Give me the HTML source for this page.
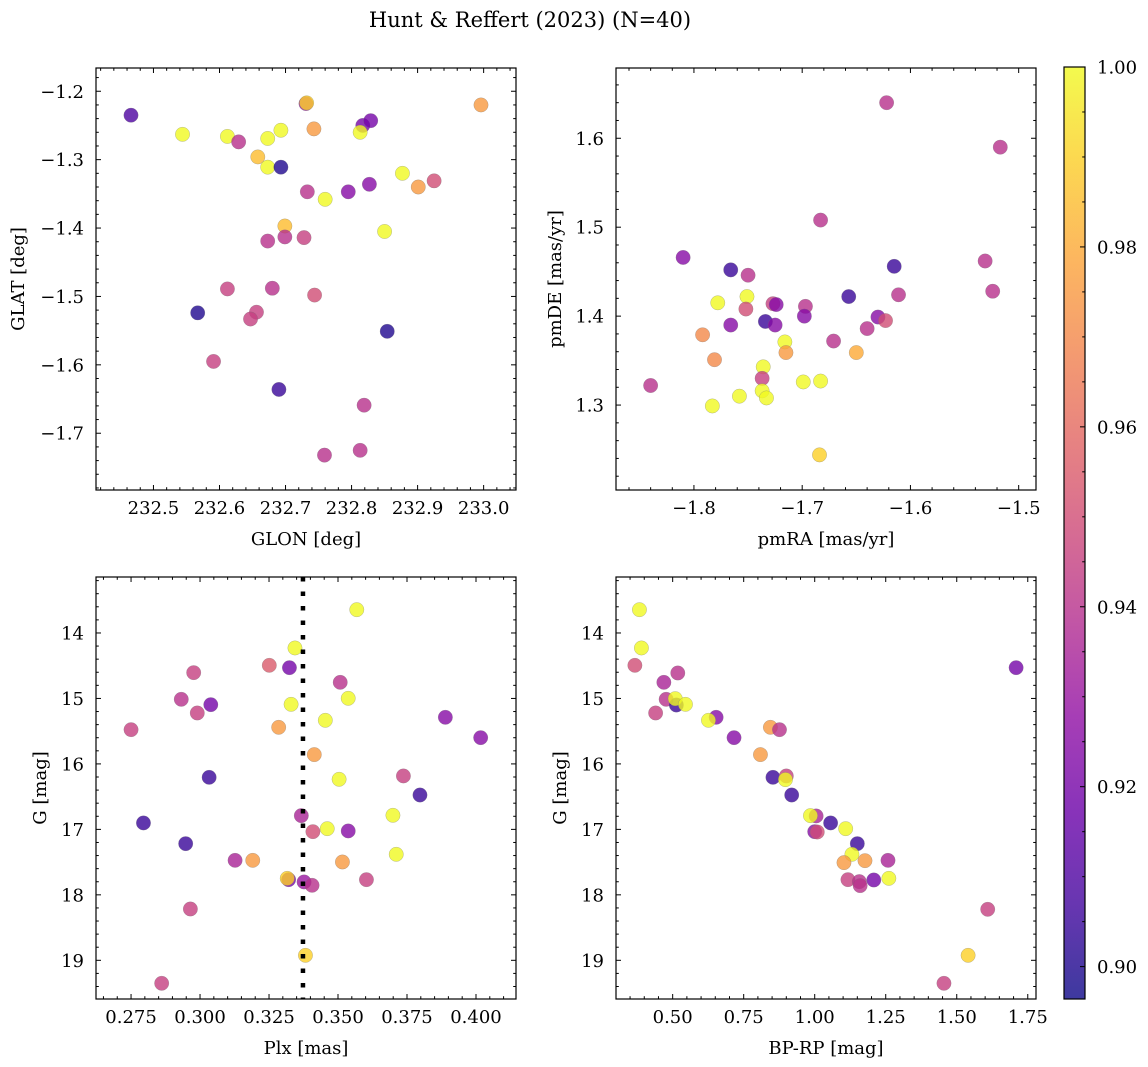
<!DOCTYPE html>
<html><head><meta charset="utf-8">
<style>
html,body{margin:0;padding:0;background:#fff;}
svg{display:block;font-family:"DejaVu Serif","Liberation Serif",serif;}
</style></head>
<body>
<svg id="fig" width="1148" height="1067" viewBox="0 0 1148 1067" xmlns="http://www.w3.org/2000/svg">
<text x="530" y="27" font-size="21" text-anchor="middle">Hunt &amp; Reffert (2023) (N=40)</text>
</svg>
<script>
// ---- Panel 1 data: GLON vs GLAT ----
const p1GLON=[232.466,232.544,232.612,232.629,232.673,232.693,232.658,232.673,232.693,232.731,232.732,232.743,232.817,232.829,232.813,232.733,232.760,232.795,232.827,232.877,232.901,232.925,232.996,232.699,232.673,232.699,232.728,232.850,232.612,232.680,232.744,232.567,232.656,232.647,232.591,232.854,232.690,232.819,232.813,232.759];
const p1GLAT=[-1.235,-1.263,-1.266,-1.274,-1.269,-1.257,-1.296,-1.311,-1.311,-1.218,-1.217,-1.255,-1.250,-1.243,-1.260,-1.347,-1.358,-1.347,-1.336,-1.320,-1.340,-1.331,-1.220,-1.397,-1.419,-1.413,-1.414,-1.405,-1.489,-1.488,-1.498,-1.524,-1.523,-1.533,-1.595,-1.551,-1.636,-1.659,-1.725,-1.732];
const p1Prob=[0.91,1.0,1.0,0.94,1.0,1.0,0.985,1.0,0.90,0.93,0.99,0.975,0.92,0.92,1.0,0.94,1.0,0.925,0.925,1.0,0.975,0.95,0.975,0.985,0.94,0.94,0.945,1.0,0.945,0.94,0.95,0.90,0.945,0.945,0.945,0.90,0.905,0.94,0.94,0.94];
// ---- Panel 2 data: pmRA vs pmDE ----
const p2PMRA=[-1.622,-1.517,-1.683,-1.810,-1.766,-1.750,-1.615,-1.531,-1.524,-1.611,-1.657,-1.778,-1.751,-1.752,-1.727,-1.724,-1.697,-1.698,-1.734,-1.725,-1.766,-1.630,-1.623,-1.640,-1.671,-1.792,-1.716,-1.715,-1.650,-1.781,-1.736,-1.737,-1.737,-1.733,-1.758,-1.783,-1.699,-1.683,-1.840,-1.684];
const p2PMDE=[1.640,1.590,1.508,1.466,1.452,1.446,1.456,1.462,1.428,1.424,1.422,1.415,1.422,1.408,1.414,1.413,1.411,1.400,1.394,1.390,1.390,1.399,1.395,1.386,1.372,1.379,1.371,1.359,1.359,1.351,1.343,1.330,1.316,1.308,1.310,1.299,1.326,1.327,1.322,1.244];
const p2Prob=[0.94,0.94,0.94,0.925,0.905,0.94,0.905,0.94,0.94,0.94,0.905,1.0,1.0,0.95,0.945,0.925,0.94,0.925,0.905,0.925,0.925,0.925,0.95,0.94,0.94,0.97,1.0,0.975,0.98,0.97,1.0,0.945,1.0,1.0,1.0,1.0,1.0,1.0,0.94,0.99];
// ---- Panel 3 data: Plx vs G ----
const p3Plx=[0.3568,0.3344,0.3251,0.3324,0.2977,0.3508,0.2932,0.3039,0.3330,0.3537,0.2990,0.3454,0.3285,0.3889,0.2750,0.4017,0.3414,0.3033,0.3504,0.3737,0.3797,0.3367,0.3699,0.2795,0.3461,0.3409,0.3537,0.2948,0.3711,0.3127,0.3191,0.3516,0.3603,0.3321,0.3316,0.3377,0.3406,0.2965,0.3382,0.2861];
const p3G=[13.644,14.229,14.494,14.530,14.606,14.754,15.013,15.095,15.090,14.998,15.222,15.334,15.441,15.288,15.477,15.599,15.858,16.205,16.235,16.184,16.475,16.790,16.785,16.902,16.989,17.035,17.024,17.218,17.381,17.473,17.473,17.498,17.768,17.768,17.748,17.803,17.854,18.216,18.924,19.351];
const p3Prob=[1.0,1.0,0.955,0.92,0.945,0.94,0.94,0.92,1.0,1.0,0.945,1.0,0.975,0.925,0.945,0.925,0.975,0.905,1.0,0.945,0.905,0.935,1.0,0.905,1.0,0.95,0.925,0.905,1.0,0.935,0.975,0.975,0.945,0.92,0.99,0.93,0.94,0.945,0.99,0.945];
const p3LinePlx=0.3373;
// ---- Panel 4 data: BP-RP vs G ----
const p4BPRP=[0.383,0.390,0.367,1.709,0.469,0.518,0.477,0.513,0.509,0.545,0.440,0.653,0.626,0.844,0.876,0.716,0.809,0.853,0.900,0.897,0.919,1.005,0.985,1.056,1.109,1.000,1.009,1.150,1.131,1.258,1.177,1.103,1.117,1.157,1.160,1.208,1.261,1.609,1.540,1.455];
const p4G=[13.644,14.229,14.494,14.530,14.754,14.611,15.013,15.100,15.003,15.090,15.222,15.288,15.334,15.441,15.477,15.599,15.858,16.205,16.184,16.240,16.475,16.795,16.790,16.902,16.989,17.035,17.040,17.218,17.381,17.473,17.478,17.508,17.768,17.798,17.859,17.773,17.748,18.221,18.924,19.351];
const p4Prob=[1.0,1.0,0.95,0.92,0.935,0.94,0.94,0.905,1.0,1.0,0.945,0.925,1.0,0.975,0.94,0.925,0.975,0.905,0.945,1.0,0.905,0.935,1.0,0.905,1.0,0.925,0.95,0.905,1.0,0.935,0.975,0.975,0.945,0.94,0.94,0.92,1.0,0.945,0.99,0.945];
// ---- tick labels ----
const p1XTicks=[232.5,232.6,232.7,232.8,232.9,233.0];
const p1YTicks=[-1.2,-1.3,-1.4,-1.5,-1.6,-1.7];
const p2XTicks=[-1.8,-1.7,-1.6,-1.5];
const p2YTicks=[1.3,1.4,1.5,1.6];
const p3XTicks=[0.275,0.300,0.325,0.350,0.375,0.400];
const p3YTicks=[14,15,16,17,18,19];
const p4XTicks=[0.50,0.75,1.00,1.25,1.50,1.75];
const p4YTicks=[14,15,16,17,18,19];
const cbTicks=[0.90,0.92,0.94,0.96,0.98,1.00];
const VMIN=0.8964, VMAX=1.0;

const NS="http://www.w3.org/2000/svg";
const svg=document.getElementById('fig');
const FS=18;
function mk(tag,attrs,parent){const e=document.createElementNS(NS,tag);for(const k in attrs)e.setAttribute(k,attrs[k]);(parent||svg).appendChild(e);return e;}
const PL=[[0,[13,8,135]],[0.1,[65,4,157]],[0.2,[106,0,168]],[0.3,[143,13,164]],[0.4,[177,42,144]],[0.5,[204,71,120]],[0.6,[225,100,98]],[0.7,[242,132,75]],[0.8,[252,166,54]],[0.9,[252,206,37]],[1.0,[240,249,33]]];
function plasma(t){t=Math.max(0,Math.min(1,t));for(let i=1;i<PL.length;i++){if(t<=PL[i][0]){const a=PL[i-1],b=PL[i],f=(t-a[0])/(b[0]-a[0]);const c=a[1].map((v,j)=>Math.round(v+(b[1][j]-v)*f));return `rgb(${c[0]},${c[1]},${c[2]})`;}}return 'rgb(240,249,33)';}
function fmt(v,d){return (v<0?'\u2212':'')+Math.abs(v).toFixed(d);}

function panel(c){
  const g=mk('g',{});
  
  
  const sx=v=>c.x0+(v-c.xmin)/(c.xmax-c.xmin)*c.w;
  const sy=v=>c.y0+(v-c.ytop)/(c.ybot-c.ytop)*c.h;
  const pts=mk('g',{},g);
  
  
  for(let i=0;i<c.xs.length;i++){
    const p=mk('circle',{cx:sx(c.xs[i]),cy:sy(c.ys[i]),r:7.2,fill:plasma((c.pr[i]-VMIN)/(VMAX-VMIN)),'fill-opacity':0.8,stroke:'#777','stroke-opacity':0.5,'stroke-width':0.5},pts);
    
    
  }
  if(c.vline!==undefined){
    const l=mk('line',{x1:sx(c.vline),x2:sx(c.vline),y1:c.y0,y2:c.y0+c.h,stroke:'#000','stroke-width':4.5,'stroke-dasharray':'4.5 10'},g);
    
    
  }
  const fr=mk('rect',{x:c.x0,y:c.y0,width:c.w,height:c.h,fill:'none',stroke:'#000','stroke-width':1.2},g);
  
  
  const tk=mk('g',{stroke:'#000','stroke-width':1},g);
  const xlo=Math.min(c.xmin,c.xmax),xhi=Math.max(c.xmin,c.xmax);
  for(let k=Math.ceil(xlo/c.xminor-1e-9);k*c.xminor<=xhi+1e-9;k++){
    const v=k*c.xminor,X=sx(v);
    const major=c.xt.some(t=>Math.abs(t-v)<c.xminor/10);
    const L=major?5:2.8;
    mk('line',{x1:X,x2:X,y1:c.y0+c.h,y2:c.y0+c.h-L},tk);
    mk('line',{x1:X,x2:X,y1:c.y0,y2:c.y0+L},tk);
  }
  const ylo=Math.min(c.ytop,c.ybot),yhi=Math.max(c.ytop,c.ybot);
  for(let k=Math.ceil(ylo/c.yminor-1e-9);k*c.yminor<=yhi+1e-9;k++){
    const v=k*c.yminor,Y=sy(v);
    const major=c.yt.some(t=>Math.abs(t-v)<c.yminor/10);
    const L=major?5:2.8;
    mk('line',{x1:c.x0,x2:c.x0+L,y1:Y,y2:Y},tk);
    mk('line',{x1:c.x0+c.w,x2:c.x0+c.w-L,y1:Y,y2:Y},tk);
  }
  for(const t of c.xt){
    const e=mk('text',{x:sx(t),y:c.y0+c.h+24,'font-size':FS,'text-anchor':'middle'},g);
    e.textContent=fmt(t,c.xd);
    
    
  }
  for(const t of c.yt){
    const e=mk('text',{x:c.x0-12,y:sy(t)+6.5,'font-size':FS,'text-anchor':'end'},g);
    e.textContent=fmt(t,c.yd);
    
    
  }
  const xl=mk('text',{x:c.x0+c.w/2,y:c.y0+c.h+55,'font-size':FS,'text-anchor':'middle'},g);
  xl.textContent=c.xlabel;
  
  
  const yl=mk('text',{x:0,y:0,'font-size':FS,'text-anchor':'middle',transform:`translate(${c.ylx},${c.y0+c.h/2}) rotate(-90)`},g);
  yl.textContent=c.ylabel;
  
  
}

panel({name:'glon-glat-panel',x0:96,y0:68,w:420,h:422,xmin:232.413,xmax:233.049,ytop:-1.166,ybot:-1.783,xs:p1GLON,ys:p1GLAT,pr:p1Prob,xt:p1XTicks,yt:p1YTicks,xminor:0.02,yminor:0.02,xd:1,yd:1,xlabel:'GLON [deg]',ylabel:'GLAT [deg]',ylx:24});
panel({name:'proper-motion-panel',x0:616,y0:68,w:420,h:422,xmin:-1.872,xmax:-1.484,ytop:1.679,ybot:1.2045,xs:p2PMRA,ys:p2PMDE,pr:p2Prob,xt:p2XTicks,yt:p2YTicks,xminor:0.02,yminor:0.02,xd:1,yd:1,xlabel:'pmRA [mas/yr]',ylabel:'pmDE [mas/yr]',ylx:561});
panel({name:'parallax-panel',x0:96,y0:577,w:420,h:422,xmin:0.2623,xmax:0.4145,ytop:13.145,ybot:19.591,xs:p3Plx,ys:p3G,pr:p3Prob,xt:p3XTicks,yt:p3YTicks,xminor:0.005,yminor:0.2,xd:3,yd:0,xlabel:'Plx [mas]',ylabel:'G [mag]',ylx:46,vline:p3LinePlx});
panel({name:'cmd-panel',x0:616,y0:577,w:420,h:422,xmin:0.3005,xmax:1.779,ytop:13.145,ybot:19.591,xs:p4BPRP,ys:p4G,pr:p4Prob,xt:p4XTicks,yt:p4YTicks,xminor:0.05,yminor:0.2,xd:2,yd:0,xlabel:'BP-RP [mag]',ylabel:'G [mag]',ylx:566});

(function(){
  const cx=1064,cy=67,cw=21,ch=932;
  const g=mk('g',{});
  
  
  const defs=mk('defs',{},g);
  const lg=mk('linearGradient',{id:'cbg',x1:0,y1:1,x2:0,y2:0},defs);
  for(let i=0;i<=20;i++){mk('stop',{offset:i/20,'stop-color':plasma(i/20),'stop-opacity':0.8},lg);}
  mk('rect',{x:cx,y:cy,width:cw,height:ch,fill:'url(#cbg)'},g);
  mk('rect',{x:cx,y:cy,width:cw,height:ch,fill:'none',stroke:'#000','stroke-width':1.2},g);
  const sy=v=>cy+ch-(v-VMIN)/(VMAX-VMIN)*ch;
  for(let k=Math.ceil(VMIN/0.005);k*0.005<=VMAX+1e-9;k++){
    const v=k*0.005,Y=sy(v);
    const major=cbTicks.some(t=>Math.abs(t-v)<0.001);
    mk('line',{x1:cx+cw,x2:cx+cw-(major?5:2.8),y1:Y,y2:Y,stroke:'#000','stroke-width':1},g);
  }
  for(const t of cbTicks){
    const e=mk('text',{x:cx+cw+12,y:sy(t)+6.5,'font-size':FS},g);
    e.textContent=t.toFixed(2);
    
    
  }
})();
</script>
</body></html>
